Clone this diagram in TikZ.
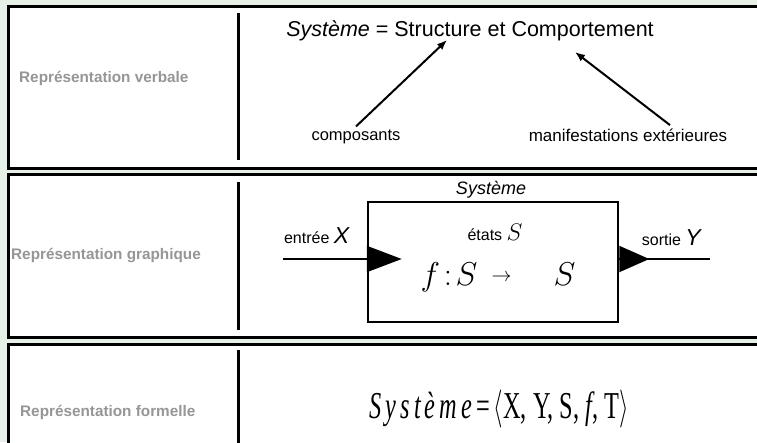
\RequirePackage{fix-cm}
\documentclass[tikz,border=0pt]{standalone}
\usepackage{graphicx}
\usepackage{fontspec}
\setmainfont{Liberation Sans}
\newfontfamily\condserif{Liberation Serif}
\usetikzlibrary{arrows.meta}
\definecolor{bgmint}{RGB}{230,240,230}
\definecolor{lblgray}{RGB}{150,150,150}
\newcommand{\fsz}[1]{\fontsize{#1}{#1}\selectfont}

\begin{document}
\begin{tikzpicture}[x=1pt, y=-1pt, line join=miter, >={Latex[length=10pt,width=8pt]},
	panel/.style={line width=3pt, fill=white},
	divider/.style={line width=3pt},
	rowlabel/.style={anchor=west, inner sep=0pt, text=lblgray, font=\fsz{15.3}\bfseries},
	pointer/.style={line width=2pt, ->},
	flow/.style={line width=2pt}]
	\fill[bgmint] (0,0) rectangle (757,442);
	\useasboundingbox (0,0) rectangle (757,442);
	% the three rows
	\draw[panel] (8.5,6.5) rectangle (770,168.5);
	\draw[panel] (8.5,174.5) rectangle (770,337);
	\draw[panel] (8.5,344) rectangle (770,470);
	\draw[divider] (238,13)--(238,160);
	\draw[divider] (238,182)--(238,330);
	\draw[divider] (238,350)--(238,450);
	\node[rowlabel] (lblVerbal) at (19,78) {Représentation verbale};
	\node[rowlabel] (lblGraph) at (11,256) {Représentation graphique};
	\node[rowlabel] (lblFormal) at (20,412) {Représentation formelle};
	% verbale
	\node[font=\fsz{21.5}] (title) at (470,31) {\textit{Système} = Structure et Comportement};
	\node[font=\fsz{16.5}] (comp) at (356,137) {composants};
	\node[font=\fsz{17}] (manif) at (628,135) {manifestations extérieures};
	\coordinate (structPt) at (447,40);
	\coordinate (comportPt) at (575,52);
	\draw[pointer] (comp.north) -- (structPt);
	\draw[pointer] ([xshift=42pt]manif.north) -- (comportPt);
	% graphique
	\node[font=\fsz{18}\itshape] (sysName) at (491,190) {Système};
	\node[draw, line width=2.5pt, minimum width=250pt, minimum height=120pt, inner sep=0pt] (box) at (493,262) {};
	\node (etats) at (495,232) {\fsz{16}états \fsz{24}$S$};
	\node (fmap) at (498,277) {\fsz{33}$f\!:\!S$\hspace{14pt}\raisebox{4pt}{\fsz{20}$\rightarrow$}\hspace{42pt}$S$};
	\node (inLbl) at (317,236) {\fsz{16}entrée \fsz{23}\textit{X}};
	\node (outLbl) at (672,238) {\fsz{16}sortie \fsz{23}\textit{Y}};
	\coordinate (inStart) at (283,259);
	\coordinate (outEnd) at (710,259);
	\draw[flow, -{Triangle[length=35pt,width=26pt]}] (inStart) -- (box.west |- inStart) -- ++(35,0);
	\draw[flow, -{Triangle[length=30pt,width=26pt]}] (box.east |- outEnd) -- ++(30,0);
	\draw[flow] (box.east |- outEnd) -- (outEnd);
	% formelle
	\node (formula) at (499,409) {\scalebox{0.64}[1]{\fsz{38}\condserif\textit{S\,y\,s\,t\,è\,m\,e}\,=\,$\langle$X, Y, S, \textit{f}, T$\rangle$}};
\end{tikzpicture}
\end{document}
